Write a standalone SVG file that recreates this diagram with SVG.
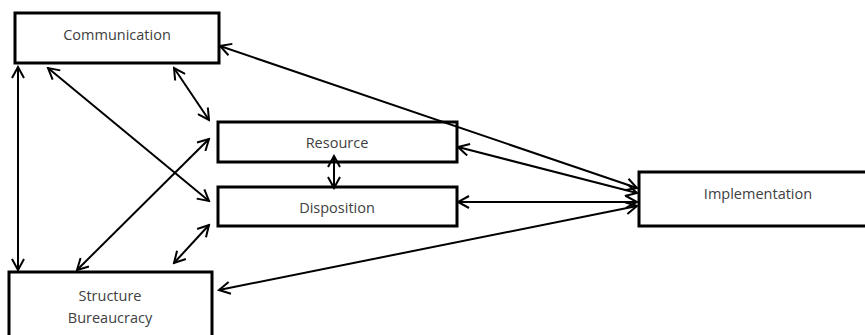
<svg xmlns="http://www.w3.org/2000/svg" width="865" height="335" viewBox="0 0 865 335">
<style>
.box{fill:#fff;stroke:#000;stroke-width:3}
.lbl{font-family:"Open Sans","Liberation Sans",sans-serif;font-size:14.5px;fill:#404040;text-anchor:middle}
.c{stroke:#000;stroke-width:2;fill:none;marker-start:url(#ah);marker-end:url(#ah)}
</style>
<defs>
<marker id="ah" markerUnits="userSpaceOnUse" markerWidth="14" markerHeight="14" viewBox="0 0 14 14" refX="12" refY="7" orient="auto-start-reverse">
<path d="M1,1 L12,7 L1,13" fill="none" stroke="#000" stroke-width="2"/>
</marker>
</defs>
<g id="n-communication"><rect class="box" x="15" y="13" width="204" height="50"/><text class="lbl" x="117" y="40">Communication</text></g>
<g id="n-resource"><rect class="box" x="218" y="122" width="239" height="40"/><text class="lbl" x="337" y="148">Resource</text></g>
<g id="n-disposition"><rect class="box" x="218" y="187" width="239" height="39"/><text class="lbl" x="337" y="213">Disposition</text></g>
<g id="n-structure"><rect class="box" x="9" y="272" width="203" height="70"/><text class="lbl" x="110" y="301">Structure</text><text class="lbl" x="110" y="323">Bureaucracy</text></g>
<g id="n-implementation"><rect class="box" x="639" y="172" width="232" height="54"/><text class="lbl" x="758" y="199">Implementation</text></g>
<g id="connectors">
<line class="c" x1="18" y1="67" x2="18" y2="270"/>
<line class="c" x1="48" y1="68" x2="209" y2="201"/>
<line class="c" x1="174" y1="68" x2="209" y2="120"/>
<line class="c" x1="220" y1="46" x2="637" y2="188"/>
<line class="c" x1="458" y1="147" x2="637" y2="193"/>
<line class="c" x1="458" y1="202" x2="637" y2="202"/>
<line class="c" x1="219" y1="290" x2="637" y2="206"/>
<line class="c" x1="77" y1="270" x2="209" y2="139"/>
<line class="c" x1="174" y1="263" x2="209" y2="225"/>
<line class="c" x1="334" y1="156" x2="334" y2="188"/>
</g>
</svg>
